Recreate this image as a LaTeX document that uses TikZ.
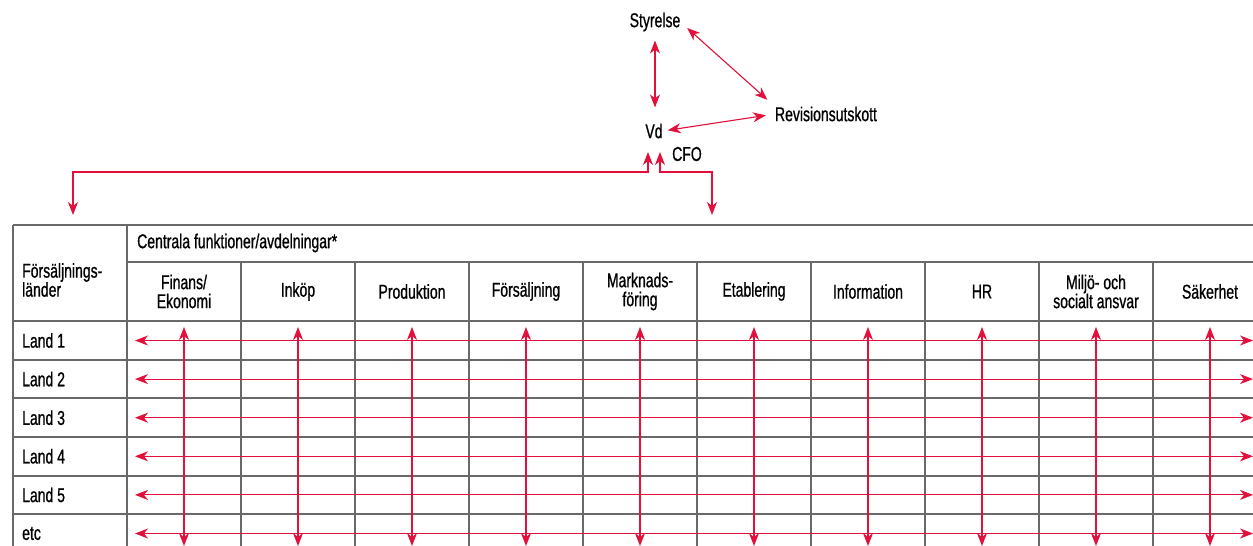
\documentclass[tikz,border=0pt]{standalone}
\usepackage{fontspec}
\setmainfont[FakeStretch=0.7,FakeBold=0.8]{Liberation Sans}
\usetikzlibrary{arrows.meta,positioning}
\definecolor{linkred}{RGB}{226,16,58}
\definecolor{rulegray}{RGB}{105,105,105}

\begin{document}
\begin{tikzpicture}[x=1pt,y=-1pt,>={Stealth[length=13pt,width=10pt,inset=4pt]},
    link/.style={<->,draw=linkred,line width=1.1pt},
    rule/.style={draw=rulegray,line width=1.4pt},
    txt/.style={font=\fontsize{20}{19}\selectfont,inner sep=0pt,align=center}]
    \useasboundingbox (0,0) rectangle (1253,546);
    % top of the organisation
    \node[txt] (sty) at (655,22) {Styrelse};
    \node[txt] (rev) at (826,114) {Revisionsutskott};
    \node[txt] (vd) at (654,131) {Vd};
    \node[txt] (cfo) at (687,154) {CFO};
    \draw[link,shorten <=9pt,shorten >=16pt] (sty.south) -- (sty.south |- vd.north);
    \draw[link,shorten <=9pt,shorten >=10pt] (sty.east) -- (rev.north west);
    \draw[link,shorten <=5pt,shorten >=9pt] (vd.east) -- (rev.west);
    \coordinate (vdl) at (648,152);
    \coordinate (vdr) at (660,152);
    \coordinate (lft) at (73,215);
    \coordinate (rgt) at (712,215);
    \draw[link] (vdl) -- ++(0,20) -| (lft);
    \draw[link] (vdr) -- ++(0,20) -| (rgt);
    % table
    \foreach \y in {225,321,360,398,437,476,514}
        \draw[rule] (13,\y) -- (1253,\y);
    \draw[rule] (127,262) -- (1253,262);
    \draw[rule] (13,225) -- (13,546);
    \draw[rule] (127,225) -- (127,546);
    \foreach \x in {241,355,...,1153}
        \draw[rule] (\x,262) -- (\x,546);
    \node[txt,anchor=west] (cent) at (137,243) {Centrala funktioner/avdelningar*};
    \node[txt,anchor=west,align=left] (fl) at (22,280) {Försäljnings-\\länder};
    \foreach \t [count=\i from 0] in {{Finans/\\Ekonomi},Inköp,Produktion,Försäljning,{Marknads-\\föring},
        Etablering,Information,HR,{Miljö- och\\socialt ansvar},Säkerhet}
        \node[txt] (h\i) at ({184+114*\i},291.5) {\t};
    \foreach \t [count=\i from 0] in {Land 1,Land 2,Land 3,Land 4,Land 5,etc}
        \node[txt,anchor=west] (r\i) at (22,{340.5+38.6*\i}) {\t};
    % arrows across the table
    \foreach \i in {0,...,5} {
        \coordinate (rl\i) at (135,{340.5+38.6*\i});
        \coordinate (rr\i) at (1253,{340.5+38.6*\i});
        \draw[link] (rl\i) -- (rr\i);
    }
    \foreach \i in {0,...,9} {
        \coordinate (ct\i) at ({184+114*\i},327);
        \coordinate (cb\i) at ({184+114*\i},546);
        \draw[link] (ct\i) -- (cb\i);
    }
\end{tikzpicture}
\end{document}
